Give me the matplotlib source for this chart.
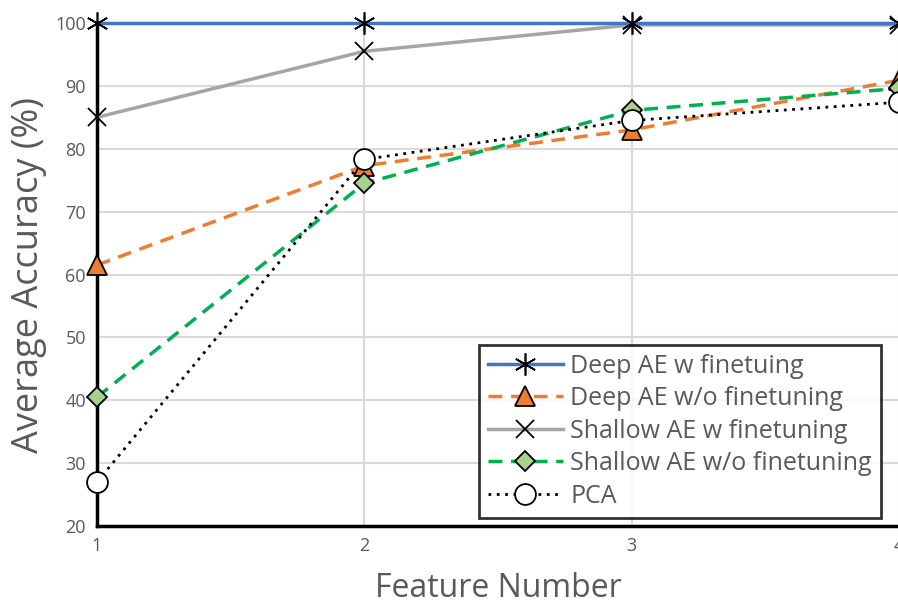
import matplotlib
matplotlib.use("Agg")
from matplotlib import pyplot as plt

plt.rcParams['font.family'] = ['Open Sans', 'DejaVu Sans']

features = [1, 2, 3, 4]
deep_ft = [100, 100, 100, 100]
deep_noft = [61.5, 77.3, 83.0, 90.9]
shallow_ft = [85.0, 95.5, 99.7, 99.7]
shallow_noft = [40.5, 74.5, 86.1, 89.6]
pca = [27.0, 78.3, 84.5, 87.4]

labels = ["Deep AE w finetuing", "Deep AE w/o finetuning",
          "Shallow AE w finetuning", "Shallow AE w/o finetuning", "PCA"]

fig = plt.figure(figsize=(8.98, 6.06), dpi=100)
ax = fig.add_axes([0.108, 0.132, 0.893, 0.830])

ax.plot(features, deep_ft, color="#4472C4", lw=2.5, marker=(6, 2, 0), ms=16,
        mec="black", mew=1.2, label=labels[0], zorder=5, clip_on=False)
ax.plot(features, deep_noft, color="#ED7D31", lw=2.5, ls=(0, (4, 2.5)), marker="^", ms=14,
        mfc="#ED7D31", mec="black", mew=1.3, label=labels[1], zorder=4, clip_on=False)
ax.plot(features, shallow_ft, color="#A5A5A5", lw=2.5, marker="x", ms=13,
        mec="black", mew=1.3, label=labels[2], zorder=4, clip_on=False)
ax.plot(features, shallow_noft, color="#00B050", lw=2.5, ls=(0, (4, 2.5)), marker="D", ms=10,
        mfc="#A9D18E", mec="black", mew=1.3, label=labels[3], zorder=4, clip_on=False)
ax.plot(features, pca, color="black", lw=2, ls=(0, (1, 2)), marker="o", ms=15,
        mfc="white", mec="black", mew=1.3, label=labels[4], zorder=6, clip_on=False)

ax.set_xlim(1, 4)
ax.set_ylim(20, 100)
ax.set_xticks(features)
ax.set_yticks(range(20, 101, 10))
ax.tick_params(length=0, labelsize=13, colors="#595959", pad=8)
ax.grid(True, color="#d9d9d9", lw=1.5)
ax.set_axisbelow(True)
for s in ["top", "right"]:
    ax.spines[s].set_visible(False)
for s in ["left", "bottom"]:
    ax.spines[s].set_linewidth(2.5)
    ax.spines[s].set_color("black")
    ax.spines[s].set_zorder(3)

ax.set_xlabel("Feature Number", fontsize=23, color="#595959", labelpad=12)
ax.set_ylabel("Average Accuracy (%)", fontsize=26, color="#595959", labelpad=6)

leg = ax.legend(loc="upper left", bbox_to_anchor=(479 / 898, 1 - 345 / 606),
                bbox_transform=fig.transFigure, fontsize=18, frameon=True,
                fancybox=False, edgecolor="black", handlelength=3.0,
                labelspacing=0.3, borderpad=0.35, handletextpad=0.3,
                borderaxespad=0)
leg.get_frame().set_linewidth(2)
leg.set_zorder(10)
for t in leg.get_texts():
    t.set_color("#595959")

fig.savefig("out.png", dpi=100)
